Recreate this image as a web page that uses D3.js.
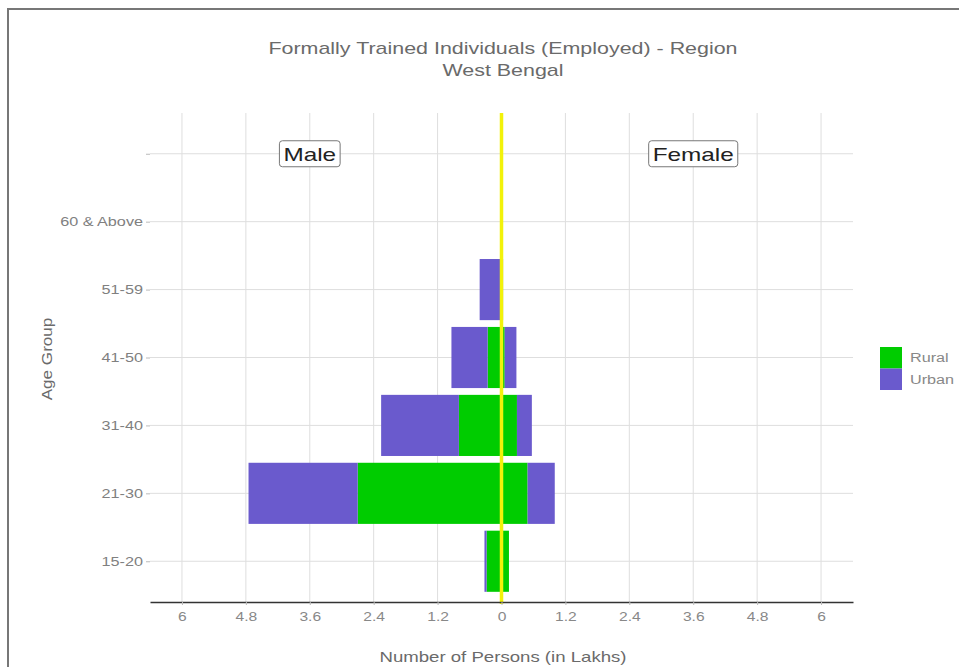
<!DOCTYPE html>
<html>
<head>
<meta charset="utf-8">
<script src="https://cdn.jsdelivr.net/npm/d3@7"></script>
<style>
  body { margin: 0; background: #fff; }
  svg { display: block; font-family: "Liberation Sans", Arial, sans-serif; }
</style>
</head>
<body>
<div id="chart"></div>
<script>
// age groups, bottom to top; the blank top row holds the Male / Female labels
const ageGroups = ["15-20", "21-30", "31-40", "41-50", "51-59", "60 & Above", ""];
const maleRural = [0.28, 2.70, 0.80, 0.26, 0.00, 0.00];
const maleUrban = [0.04, 2.05, 1.46, 0.68, 0.41, 0.00];
const femaleRural = [0.14, 0.49, 0.29, 0.06, 0.00, 0.00];
const femaleUrban = [0.00, 0.51, 0.28, 0.22, 0.03, 0.00];
const xTicks = [-6, -4.8, -3.6, -2.4, -1.2, 0, 1.2, 2.4, 3.6, 4.8, 6];
const areas = ["Rural", "Urban"];
const areaColors = { Rural: "#00cc00", Urban: "#6a5acd" };

const W = 959, H = 667;
const svg = d3.select("#chart").append("svg").attr("width", W).attr("height", H);

// the reference renders its text wider than Arial metrics; stretch to match
function stretch(sel, k) {
  sel.each(function () {
    const len = this.getComputedTextLength();
    d3.select(this).attr("textLength", len * k).attr("lengthAdjust", "spacingAndGlyphs");
  });
}

// frame
svg.append("rect").attr("x", 8).attr("y", 9).attr("width", W + 20).attr("height", H + 20)
  .attr("fill", "none").attr("stroke", "#777").attr("stroke-width", 2);

const x = d3.scaleLinear().domain([-6.6, 6.6]).range([150, 853]);
const y = d3.scalePoint().domain(ageGroups).range([602, 113]).padding(0.6);
const barH = y.step() * 0.9;

// grid
svg.append("g").selectAll("line").data(xTicks).join("line")
  .attr("x1", d => x(d)).attr("x2", d => x(d)).attr("y1", 113).attr("y2", 602)
  .attr("stroke", "#dedede").attr("stroke-width", 1);
svg.append("g").selectAll("line").data(ageGroups).join("line")
  .attr("x1", 150).attr("x2", 853).attr("y1", d => y(d)).attr("y2", d => y(d))
  .attr("stroke", "#dedede").attr("stroke-width", 1);

// stacked bars: rural next to zero, urban beyond
const segs = [];
ageGroups.slice(0, 6).forEach((g, i) => {
  segs.push({ g, area: "Rural", x0: -maleRural[i], x1: 0 });
  segs.push({ g, area: "Urban", x0: -maleRural[i] - maleUrban[i], x1: -maleRural[i] });
  segs.push({ g, area: "Rural", x0: 0, x1: femaleRural[i] });
  segs.push({ g, area: "Urban", x0: femaleRural[i], x1: femaleRural[i] + femaleUrban[i] });
});
svg.append("g").selectAll("rect").data(segs.filter(s => s.x1 - s.x0 > 0)).join("rect")
  .attr("x", d => x(d.x0)).attr("width", d => x(d.x1) - x(d.x0))
  .attr("y", d => y(d.g) - barH / 2).attr("height", barH)
  .attr("fill", d => areaColors[d.area]);

// zero line
svg.append("line").attr("x1", x(0)).attr("x2", x(0)).attr("y1", 113).attr("y2", 604)
  .attr("stroke", "#f2f20a").attr("stroke-width", 3.5);

// axes
const xAxis = svg.append("g").attr("transform", "translate(0,602)")
  .call(d3.axisBottom(x).tickValues(xTicks).tickSize(3).tickSizeOuter(0)
    .tickFormat(d => d3.format("")(Math.abs(d))));
xAxis.select(".domain").attr("stroke", "#333").attr("stroke-width", 1.3);
xAxis.selectAll(".tick line").attr("stroke", "#bbb");
xAxis.selectAll(".tick text").attr("fill", "#888").attr("font-size", 12)
  .attr("font-family", "Liberation Sans, Arial, sans-serif").attr("dy", "1.1em")
  .call(stretch, 1.3);

const yAxis = svg.append("g").attr("transform", "translate(150,0)")
  .call(d3.axisLeft(y).tickSize(4));
yAxis.select(".domain").remove();
yAxis.selectAll(".tick line").attr("stroke", "#bbb");
yAxis.selectAll(".tick text").attr("fill", "#808080").attr("font-size", 12)
  .attr("font-family", "Liberation Sans, Arial, sans-serif")
  .call(stretch, 1.35);

// Male / Female labels
const sexLabels = [{ t: "Male", v: -3.6 }, { t: "Female", v: 3.6 }];
const topRow = ageGroups[ageGroups.length - 1];
sexLabels.forEach(s => {
  const g = svg.append("g").attr("transform", `translate(${x(s.v)},${y(topRow)})`);
  const txt = g.append("text").attr("text-anchor", "middle").attr("dy", "0.36em")
    .attr("font-size", 19).attr("fill", "#222").text(s.t).call(stretch, 1.28);
  const bb = txt.node().getBBox();
  g.insert("rect", "text").attr("x", bb.x - 4).attr("y", -13).attr("width", bb.width + 8).attr("height", 26)
    .attr("rx", 3).attr("fill", "#fff").attr("stroke", "#777").attr("stroke-width", 1);
});

// titles
svg.append("text").attr("x", 503).attr("y", 54).attr("text-anchor", "middle")
  .attr("font-size", 17).attr("fill", "#6a6a6a").text("Formally Trained Individuals (Employed) - Region")
  .call(stretch, 1.26);
svg.append("text").attr("x", 503).attr("y", 76).attr("text-anchor", "middle")
  .attr("font-size", 17).attr("fill", "#6a6a6a").text("West Bengal")
  .call(stretch, 1.26);
svg.append("text").attr("x", 503).attr("y", 662).attr("text-anchor", "middle")
  .attr("font-size", 15).attr("fill", "#6a6a6a").text("Number of Persons (in Lakhs)")
  .call(stretch, 1.24);
svg.append("text").attr("transform", "translate(52,359) rotate(-90)").attr("text-anchor", "middle")
  .attr("font-size", 15).attr("fill", "#6a6a6a").text("Age Group")
  .call(stretch, 1.14);

// legend
const leg = svg.append("g").attr("transform", "translate(880,347)");
areas.forEach((a, i) => {
  leg.append("rect").attr("x", 0).attr("y", i * 21.5).attr("width", 22).attr("height", 21.5)
    .attr("fill", areaColors[a]);
  leg.append("text").attr("x", 30).attr("y", i * 21.5 + 15).attr("font-size", 12)
    .attr("fill", "#888").text(a).call(stretch, 1.35);
});
</script>
</body>
</html>
